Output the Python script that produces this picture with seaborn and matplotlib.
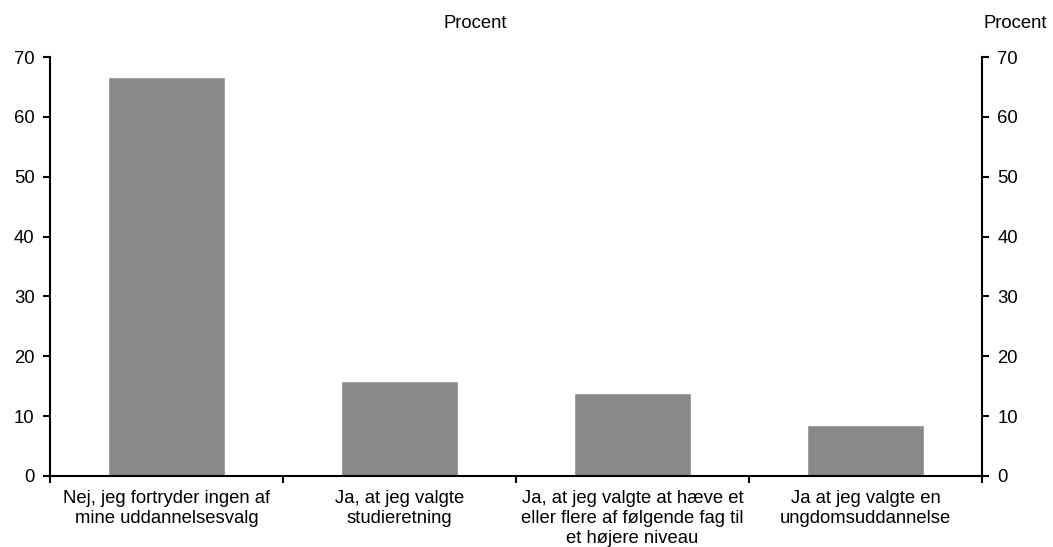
import matplotlib
matplotlib.use("Agg")
import matplotlib.pyplot as plt
import seaborn as sns
import pandas as pd
import numpy as np

categories = [
    "Nej, jeg fortryder ingen af\nmine uddannelsesvalg",
    "Ja, at jeg valgte\nstudieretning",
    "Ja, at jeg valgte at hæve et\neller flere af følgende fag til\net højere niveau",
    "Ja at jeg valgte en\nungdomsuddannelse",
]
values = [66.7, 15.8, 13.9, 8.5]
yticks = [0, 10, 20, 30, 40, 50, 60, 70]

sns.set_theme(style="white")
plt.rcParams['font.family'] = ['Liberation Sans', 'DejaVu Sans']
plt.rcParams['text.color'] = 'black'
fs = 13.3

fig = plt.figure(figsize=(10.53, 5.47), dpi=100)
ax = fig.add_axes([50/1053, 1-476/547, (982-50)/1053, (476-57)/547])
df = pd.DataFrame({"cat": categories, "val": values})
sns.barplot(data=df, x="cat", y="val", color="#898989", width=0.5, saturation=1, ax=ax)
ax.set_xlim(-0.5, len(categories) - 0.5)
ax.set_ylim(0, 70)
ax.set_yticks(yticks)
ax.set_yticklabels([str(t) for t in yticks], fontsize=fs, color="black")
ax.set_xlabel("")
ax.set_ylabel("")
ax.set_xticks(np.arange(len(categories)))
ax.set_xticklabels(categories, fontsize=fs, linespacing=1.25, color="black")
ax.tick_params(axis="x", length=0, pad=10)
ax.set_xticks(np.arange(-0.5, len(categories), 1.0), minor=True)
ax.tick_params(axis="x", which="minor", direction="out", length=5, width=1.5, color="black", bottom=True)
ax.tick_params(axis="y", direction="out", length=5, width=1.5, color="black", left=True, pad=6)
for s in ["top", "right"]:
    ax.spines[s].set_visible(False)
for s in ["left", "bottom"]:
    ax.spines[s].set_color("black")
    ax.spines[s].set_linewidth(1.5)

ax2 = ax.twinx()
ax2.set_ylim(0, 70)
ax2.set_yticks(yticks)
ax2.set_yticklabels([str(t) for t in yticks], fontsize=fs, color="black")
ax2.tick_params(axis="y", direction="out", length=5, width=1.5, color="black", right=True, pad=6)
for s in ["top", "left", "bottom"]:
    ax2.spines[s].set_visible(False)
ax2.spines["right"].set_color("black")
ax2.spines["right"].set_linewidth(1.5)
ax2.grid(False)
ax.grid(False)

fig.text(475/1053, 1-24/547, "Procent", ha="center", va="center", fontsize=fs, color="black")
fig.text(1015/1053, 1-24/547, "Procent", ha="center", va="center", fontsize=fs, color="black")

fig.savefig("out.png", dpi=100)
